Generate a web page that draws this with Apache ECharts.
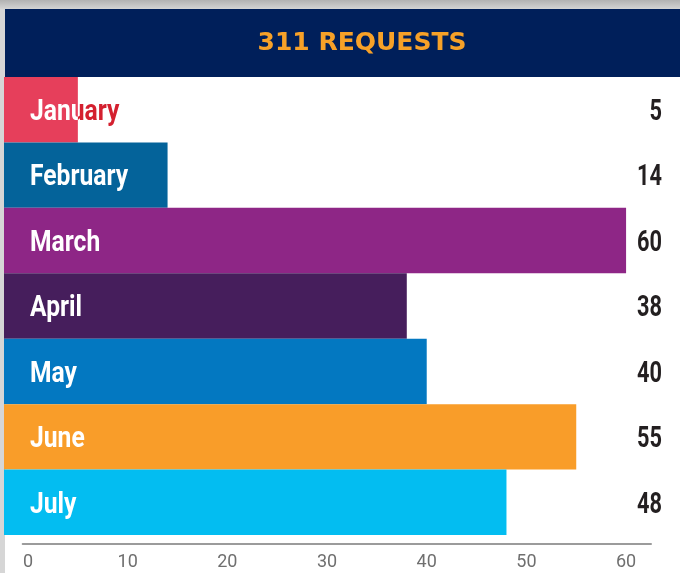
<!DOCTYPE html>
<html>
<head>
<meta charset="utf-8">
<script src="https://cdn.jsdelivr.net/npm/echarts@6/dist/echarts.min.js"></script>
<style>
  html, body { margin: 0; padding: 0; background: #ffffff; }
  #chart { width: 680px; height: 573px; }
</style>
</head>
<body>
<div id="chart"></div>
<script>
// ---- data ----
const titleText = '311 REQUESTS';
const months = ['January', 'February', 'March', 'April', 'May', 'June', 'July'];
const requests = [5, 14, 60, 38, 40, 55, 48];
const tickValues = [0, 10, 20, 30, 40, 50, 60];

// ---- styles ----
const barColors = ['#e63f5b', '#04639a', '#8e2686', '#461e5c', '#0378c1', '#f99d29', '#03bdf1'];
const outsideTextColors = ['#d4202f', '#04639a', '#8e2686', '#461e5c', '#0378c1', '#f99d29', '#03bdf1'];
const X_MIN = -2.41, X_MAX = 62.5;
const monthFont = 'bold 29px Roboto';
const valueFont = 'bold 29px Roboto';

const chart = echarts.init(document.getElementById('chart'), null, { renderer: 'canvas' });

const seriesData = requests.map((v, i) => [v, i]);

chart.setOption({
  animation: false,
  backgroundColor: '#ffffff',
  title: {
    text: titleText,
    left: 357,
    top: 26,
    textAlign: 'center',
    textStyle: {
      color: '#f7a128',
      fontFamily: 'DejaVu Sans',
      fontWeight: 'bold',
      fontSize: 25
    }
  },
  graphic: [
    { type: 'rect', z: -10, shape: { x: 0, y: 0, width: 5, height: 573 }, style: { fill: '#d6d6d6' } },
    { type: 'rect', z: -10, shape: { x: 0, y: 0, width: 680, height: 9 },
      style: { fill: new echarts.graphic.LinearGradient(0, 0, 0, 1, [
        { offset: 0, color: '#b2b2b2' }, { offset: 1, color: '#d4d4d4' }]) } },
    { type: 'rect', z: -5, shape: { x: 5, y: 9, width: 675, height: 68 }, style: { fill: '#001f5a' } }
  ],
  grid: [
    { left: 4, right: 29, top: 77, bottom: 38 },
    { left: 22.7, right: 29, top: 540, bottom: 29 }
  ],
  xAxis: [
    { gridIndex: 0, type: 'value', min: X_MIN, max: X_MAX, show: false },
    {
      gridIndex: 1, type: 'value', min: -0.53, max: X_MAX,
      axisLine: { show: true, lineStyle: { color: '#9b9b9b', width: 2 } },
      axisTick: { show: false },
      splitLine: { show: false },
      axisLabel: {
        customValues: tickValues,
        margin: 9,
        color: '#6f6f6f',
        fontFamily: 'Roboto',
        fontSize: 18
      }
    }
  ],
  yAxis: [
    { gridIndex: 0, type: 'category', data: months, inverse: true, show: false },
    { gridIndex: 1, type: 'value', show: false }
  ],
  series: [{
    type: 'custom',
    xAxisIndex: 0,
    yAxisIndex: 0,
    encode: { x: 0, y: 1 },
    data: seriesData,
    renderItem: function (params, api) {
      const val = api.value(0);
      const idx = api.value(1);
      const start = api.coord([X_MIN, idx]);
      const end = api.coord([val, idx]);
      const rightEnd = api.coord([X_MAX, idx]);
      const h = api.size([0, 1])[1];
      const x0 = start[0], x1 = end[0], yc = start[1];
      const barShape = { x: x0, y: yc - h / 2, width: x1 - x0, height: h };
      const tx = x0 + 26;
      const monthText = (fill) => ({
        type: 'text', x: tx, y: yc + 3, scaleX: 0.85,
        style: { x: 0, y: 0, text: months[idx], font: monthFont, fill: fill,
                 textAlign: 'left', textVerticalAlign: 'middle' }
      });
      return {
        type: 'group',
        children: [
          { type: 'rect', shape: barShape, style: { fill: barColors[idx] } },
          {
            type: 'group',
            clipPath: { type: 'rect', shape: { x: x1, y: yc - h / 2, width: 2000, height: h } },
            children: [monthText(outsideTextColors[idx])]
          },
          {
            type: 'group',
            clipPath: { type: 'rect', shape: barShape },
            children: [monthText('#ffffff')]
          },
          {
            type: 'text', x: rightEnd[0] + 11, y: yc + 3, scaleX: 0.75,
            style: { x: 0, y: 0, text: String(val), font: valueFont, fill: '#231f20',
                     textAlign: 'right', textVerticalAlign: 'middle' }
          }
        ]
      };
    }
  }]
});
</script>
</body>
</html>
